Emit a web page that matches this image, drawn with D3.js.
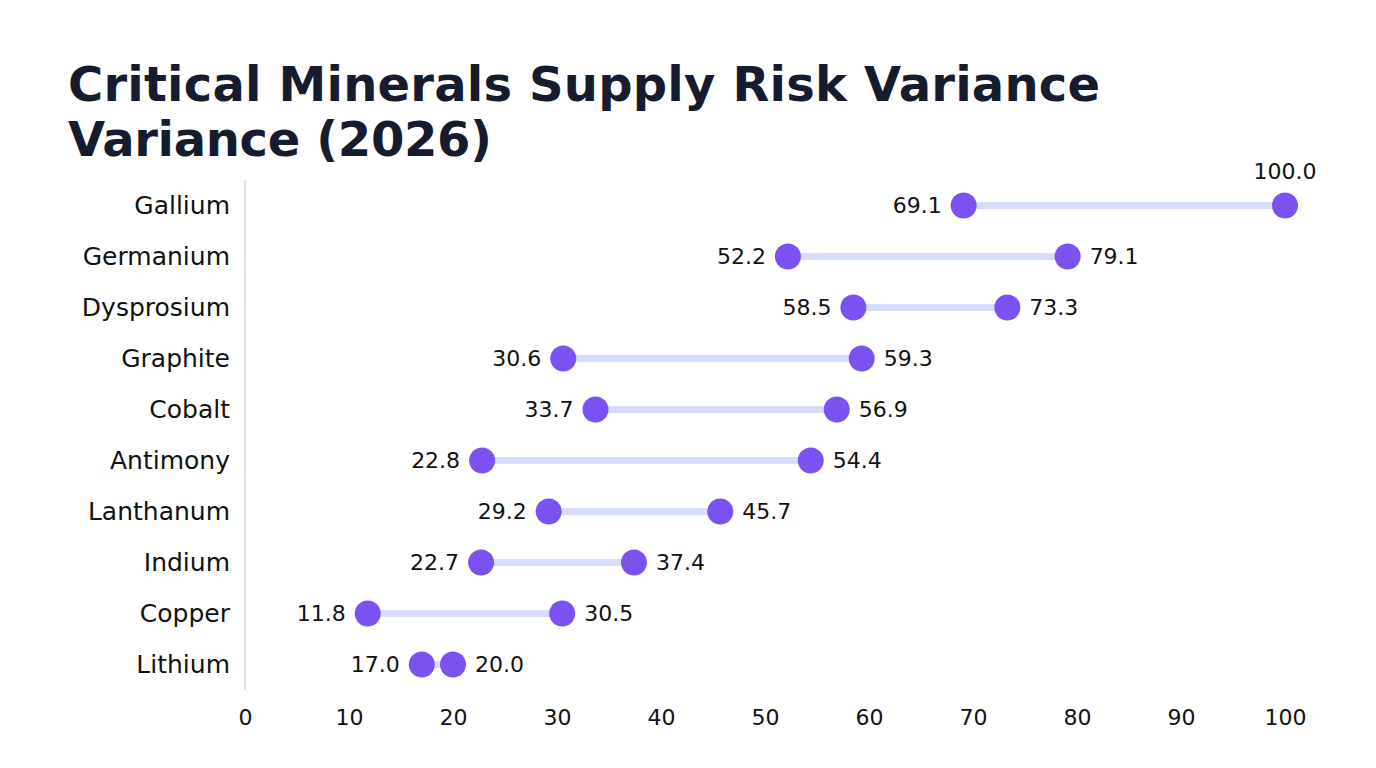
<!DOCTYPE html>
<html>
<head>
<meta charset="utf-8">
<script src="https://cdn.jsdelivr.net/npm/d3@7"></script>
<style>
  body { margin: 0; background: #fff; }
  svg { display: block; }
</style>
</head>
<body>
<div id="chart"></div>
<script>
// Data
const minerals = ["Gallium", "Germanium", "Dysprosium", "Graphite", "Cobalt",
                  "Antimony", "Lanthanum", "Indium", "Copper", "Lithium"];
const lowValues = [69.1, 52.2, 58.5, 30.6, 33.7, 22.8, 29.2, 22.7, 11.8, 17.0];
const highValues = [100.0, 79.1, 73.3, 59.3, 56.9, 54.4, 45.7, 37.4, 30.5, 20.0];
const xTicks = [0, 10, 20, 30, 40, 50, 60, 70, 80, 90, 100];
const titleLines = ["Critical Minerals Supply Risk Variance", "Variance (2026)"];

const rows = minerals.map((m, i) => ({ name: m, low: lowValues[i], high: highValues[i] }));

const width = 1376, height = 768;
const labelFont = "'DejaVu Sans', 'Noto Sans', sans-serif";

const svg = d3.select("#chart").append("svg")
    .attr("width", width)
    .attr("height", height);

// Title (two lines)
const titleLengths = [1032, 424];
svg.selectAll(".title")
    .data(titleLines)
    .enter().append("text")
    .attr("class", "title")
    .attr("x", 68)
    .attr("y", (d, i) => 101 + i * 55)
    .attr("textLength", (d, i) => titleLengths[i])
    .attr("lengthAdjust", "spacing")
    .attr("fill", "#161b2e")
    .style("font-family", "'DejaVu Sans', sans-serif")
    .style("font-weight", "bold")
    .style("font-size", "48px")
    .text(d => d);

// Scales
const x = d3.scaleLinear().domain([0, 100]).range([245, 1285]);
const y = d3.scaleBand().domain(minerals).range([180, 690]).padding(0);
const r = 13;

// Vertical baseline
svg.append("line")
    .attr("x1", x(0)).attr("x2", x(0))
    .attr("y1", 180).attr("y2", 690)
    .attr("stroke", "#d9d9d9")
    .attr("stroke-width", 1.5);

// X axis (labels only)
const xAxis = svg.append("g")
    .attr("transform", "translate(0,709)")
    .call(d3.axisBottom(x).tickValues(xTicks).tickSize(0).tickPadding(0));
xAxis.select(".domain").remove();
xAxis.selectAll("text")
    .attr("dy", "0.71em")
    .style("font-family", labelFont)
    .style("font-size", "22px")
    .attr("fill", "#111");

// Y axis labels
const yAxis = svg.append("g")
    .attr("transform", "translate(230,0)")
    .call(d3.axisLeft(y).tickSize(0).tickPadding(0));
yAxis.select(".domain").remove();
yAxis.selectAll("text")
    .style("font-family", labelFont)
    .style("font-size", "25px")
    .attr("fill", "#111");

// Connecting lines
svg.selectAll(".connector")
    .data(rows)
    .enter().append("line")
    .attr("class", "connector")
    .attr("x1", d => x(d.low))
    .attr("x2", d => x(d.high))
    .attr("y1", d => y(d.name) + y.bandwidth() / 2)
    .attr("y2", d => y(d.name) + y.bandwidth() / 2)
    .attr("stroke", "#d6dcfa")
    .attr("stroke-width", 7)
    .attr("stroke-linecap", "round");

// Dots
const dotColor = "#7b52f0";
svg.selectAll(".dot-low")
    .data(rows)
    .enter().append("circle")
    .attr("class", "dot-low")
    .attr("cx", d => x(d.low))
    .attr("cy", d => y(d.name) + y.bandwidth() / 2)
    .attr("r", r)
    .attr("fill", dotColor);

svg.selectAll(".dot-high")
    .data(rows)
    .enter().append("circle")
    .attr("class", "dot-high")
    .attr("cx", d => x(d.high))
    .attr("cy", d => y(d.name) + y.bandwidth() / 2)
    .attr("r", r)
    .attr("fill", dotColor);

// Value labels
svg.selectAll(".lab-low")
    .data(rows)
    .enter().append("text")
    .attr("class", "lab-low")
    .attr("x", d => x(d.low) - r - 9)
    .attr("y", d => y(d.name) + y.bandwidth() / 2)
    .attr("dy", "0.35em")
    .attr("text-anchor", "end")
    .style("font-family", labelFont)
    .style("font-size", "22px")
    .attr("fill", "#111")
    .text(d => d.low.toFixed(1));

svg.selectAll(".lab-high")
    .data(rows)
    .enter().append("text")
    .attr("class", "lab-high")
    .attr("x", d => d.high >= 95 ? x(d.high) : x(d.high) + r + 9)
    .attr("y", d => d.high >= 95 ? y(d.name) + y.bandwidth() / 2 - 34 : y(d.name) + y.bandwidth() / 2)
    .attr("dy", "0.35em")
    .attr("text-anchor", d => d.high >= 95 ? "middle" : "start")
    .style("font-family", labelFont)
    .style("font-size", "22px")
    .attr("fill", "#111")
    .text(d => d.high.toFixed(1));
</script>
</body>
</html>
